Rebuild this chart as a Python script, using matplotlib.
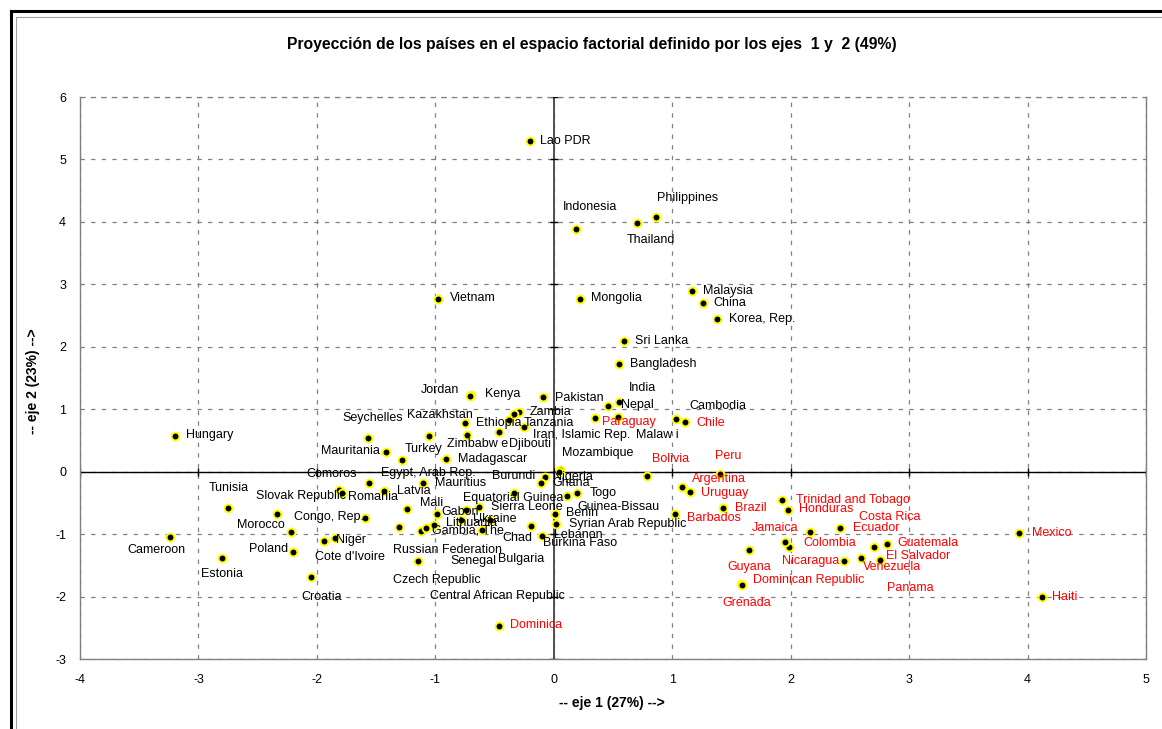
import matplotlib
matplotlib.use("Agg")
import matplotlib.pyplot as plt
from matplotlib.lines import Line2D

plt.rcParams['font.family'] = ['Liberation Sans', 'DejaVu Sans']
plt.rcParams['axes.unicode_minus'] = False

# ---------------- data ----------------
countries = [
    "Lao PDR", "Indonesia", "Philippines", "Thailand", "Malaysia", "China", "Korea, Rep.",
    "Vietnam", "Mongolia", "Sri Lanka", "Bangladesh", "India", "Nepal", "Pakistan",
    "Cambodia", "Chile", "Paraguay", "Malaw i", "Iran, Islamic Rep.", "Zambia", "Tanzania",
    "Ethiopia", "Djibouti", "Kenya", "Jordan", "Kazakhstan", "Zimbabw e", "Madagascar",
    "Seychelles", "Mauritania", "Turkey", "Egypt, Arab Rep.", "Comoros", "Mauritius",
    "Slovak Republic", "Romania", "Latvia", "Congo, Rep.", "Morocco", "Poland",
    "Cote d'Ivoire", "Niger", "Croatia", "Hungary", "Tunisia", "Cameroon", "Estonia",
    "Mali", "Gabon", "Sierra Leone", "Equatorial Guinea", "Lithuania", "Ukraine",
    "Gambia, The", "Russian Federation", "Czech Republic", "Senegal", "Bulgaria",
    "Central African Republic", "Chad", "Lebanon", "Burkina Faso", "",
    "Mozambique", "Burundi", "Nigeria", "Ghana", "Togo", "Guinea-Bissau", "Benin",
    "Syrian Arab Republic", "Bolivia", "Peru", "Argentina", "Uruguay", "Brazil",
    "Barbados", "Trinidad and Tobago", "Honduras", "Jamaica", "Ecuador", "Costa Rica",
    "Colombia", "Panama", "Guatemala", "El Salvador", "Venezuela", "Nicaragua",
    "Guyana", "Dominican Republic", "Grenada", "Mexico", "Haiti", "Dominica",
]

eje1 = [
    -0.20, 0.19, 0.86, 0.70, 1.17, 1.26, 1.38,
    -0.98, 0.22, 0.59, 0.55, 0.55, 0.46, -0.09,
    1.03, 1.11, 0.35, 0.54, -0.25, -0.29, -0.34,
    -0.38, -0.46, -0.70, -0.71, -0.75, -0.73, -0.91,
    -1.57, -1.42, -1.05, -1.28, -1.56, -1.10,
    -1.81, -1.79, -1.43, -1.59, -2.34, -2.22,
    -2.20, -1.85, -2.05, -3.20, -2.75, -3.24, -2.80,
    -1.24, -0.99, -0.63, -0.34, -0.78, -0.54,
    -1.01, -1.12, -1.15, -0.61, -1.08,
    -1.31, -0.19, -0.10, -0.74, -1.94,
    0.05, 0.04, -0.07, -0.11, 0.20, 0.11, 0.01,
    0.02, 0.79, 1.40, 1.08, 1.15, 1.43,
    1.02, 1.93, 1.98, 2.16, 2.42, 2.70,
    1.99, 1.95, 2.81, 2.75, 2.59, 2.45,
    1.65, 1.58, 1.59, 3.93, 4.12, -0.46,
]

eje2 = [
    5.29, 3.89, 4.08, 3.98, 2.90, 2.70, 2.45,
    2.77, 2.77, 2.09, 1.72, 1.12, 1.05, 1.19,
    0.85, 0.79, 0.86, 0.88, 0.71, 0.95, 0.92,
    0.83, 0.64, 1.22, 1.21, 0.78, 0.59, 0.20,
    0.54, 0.32, 0.57, 0.19, -0.18, -0.18,
    -0.30, -0.34, -0.31, -0.74, -0.68, -0.96,
    -1.29, -1.06, -1.68, 0.57, -0.58, -1.04, -1.39,
    -0.60, -0.67, -0.56, -0.34, -0.77, -0.77,
    -0.85, -0.95, -1.43, -0.93, -0.91,
    -0.89, -0.87, -1.03, -0.61, -1.11,
    0.02, 0.00, -0.08, -0.18, -0.34, -0.39, -0.67,
    -0.84, -0.07, -0.04, -0.25, -0.33, -0.58,
    -0.68, -0.45, -0.61, -0.97, -0.90, -1.20,
    -1.20, -1.12, -1.16, -1.41, -1.39, -1.43,
    -1.26, -1.80, -1.81, -0.98, -2.01, -2.47,
]

red_countries = [
    "Chile", "Paraguay", "Bolivia", "Peru", "Argentina", "Uruguay", "Brazil", "Barbados",
    "Trinidad and Tobago", "Honduras", "Jamaica", "Ecuador", "Costa Rica", "Colombia",
    "Panama", "Guatemala", "El Salvador", "Venezuela", "Nicaragua", "Guyana",
    "Dominican Republic", "Grenada", "Mexico", "Haiti", "Dominica",
]

x_ticks = [-4, -3, -2, -1, 0, 1, 2, 3, 4, 5]
y_ticks = [-3, -2, -1, 0, 1, 2, 3, 4, 5, 6]

title = "Proyección de los países en el espacio factorial definido por los ejes  1 y  2 (49%)"
xlabel = "-- eje 1 (27%) -->"
ylabel = "-- eje 2 (23%) -->"

# ---------------- label placement (pixel offsets from the point) ----------------
label_offsets = {
    "Lao PDR": (35.5, 0.7), "Indonesia": (13.3, 22), "Philippines": (32, 19),
    "Thailand": (14.3, -16.7), "Malaysia": (36, 0), "China": (26.8, 0.3),
    "Korea, Rep.": (44.7, 0), "Vietnam": (34.8, 0.7), "Mongolia": (36.2, 0.7),
    "Sri Lanka": (37.5, 0), "Bangladesh": (44.5, 0.3), "India": (23.7, 13.7),
    "Nepal": (29.2, 1.3), "Pakistan": (36.3, -0.3), "Cambodia": (42, 12.5),
    "Chile": (25.5, -0.3), "Paraguay": (33.3, -3.7), "Malaw i": (39.4, -18.3),
    "Iran, Islamic Rep.": (57, -7.3), "Zambia": (31, 0.3), "Tanzania": (35.7, -8.7),
    "Ethiopia": (-9.8, -3), "Djibouti": (30.7, -12.3), "Kenya": (31.5, 1.7),
    "Jordan": (-29.5, 6.2), "Kazakhstan": (-25, 8.3), "Zimbabw e": (9.8, -9),
    "Madagascar": (46.8, 0), "Seychelles": (4.7, 20), "Mauritania": (-34.7, 0.7),
    "Turkey": (-6, -13), "Egypt, Arab Rep.": (26.3, -13.3), "Comoros": (-37.3, 9.4),
    "Mauritius": (36.7, 0), "Slovak Republic": (-38.3, -6), "Romania": (31.6, -4.6),
    "Latvia": (29, 0.3), "Congo, Rep.": (-36.7, 1), "Morocco": (-15.3, -11),
    "Poland": (-22.3, -17.7), "Cote d'Ivoire": (56.7, -4.4), "Niger": (16.7, -2.3),
    "Croatia": (10.3, -20), "Hungary": (35, 0.6), "Tunisia": (0.3, 19.7),
    "Cameroon": (-13.7, -13.3), "Estonia": (-0.5, -15.3), "Mali": (25, 5.7),
    "Gabon": (24, 1.6), "Sierra Leone": (47.7, 0), "Equatorial Guinea": (0, -5.6),
    "Lithuania": (10, -3.3), "Ukraine": (4.7, 0.7), "Gambia, The": (34, -6),
    "Russian Federation": (26, -19.3), "Czech Republic": (19, -19.3),
    "Senegal": (-8.4, -31.7), "Bulgaria": (94.8, -30.3),
    "Central African Republic": (99.3, -68.7), "Chad": (-13.5, -12.3),
    "Lebanon": (36.6, 1.4), "Burkina Faso": (113.5, -33.3),
    "Mozambique": (37.5, 17.4), "Burundi": (-45, -4.5), "Nigeria": (27.3, 0),
    "Ghana": (30.3, 0), "Togo": (25.8, 0), "Guinea-Bissau": (51.6, -10.7),
    "Benin": (27.5, 0.6), "Syrian Arab Republic": (72, 0), "Bolivia": (23.5, 16.7),
    "Peru": (8.2, 18.3), "Argentina": (37, 8.2), "Uruguay": (34.5, -0.4),
    "Brazil": (27.2, 0.3), "Barbados": (39, -4.3), "Trinidad and Tobago": (70.6, 0),
    "Honduras": (38.3, 0.7), "Jamaica": (-34.5, 4.6), "Ecuador": (35.5, 0),
    "Costa Rica": (15.7, 30), "Colombia": (40.2, 4), "Panama": (125.3, -46),
    "Guatemala": (41.8, 0.7), "El Salvador": (39, 3.8), "Venezuela": (31.5, -8.4),
    "Nicaragua": (-33, 0), "Guyana": (-0.1, -16.5), "Dominican Republic": (67.7, 3.6),
    "Grenada": (4.9, -17.9), "Mexico": (32.4, 0), "Haiti": (23, 0.3),
    "Dominica": (37.2, 1),
}

# ---------------- figure ----------------
W, H = 1162, 729
fig = plt.figure(figsize=(W / 100, H / 100), dpi=100)
ax = fig.add_axes([80 / W, 1 - 659 / H, (1146 - 80) / W, (659 - 97) / H])

ax.set_xlim(x_ticks[0], x_ticks[-1])
ax.set_ylim(y_ticks[0], y_ticks[-1])
ax.set_xticks(x_ticks)
ax.set_yticks(y_ticks)
ax.tick_params(length=0, labelsize=9, pad=11)
ax.tick_params(axis='y', pad=10)

ax.grid(True, linestyle=(0, (3.5, 5)), color='#808080', linewidth=0.9)
ax.set_axisbelow(True)
for side in ['left', 'bottom', 'right']:
    ax.spines[side].set_color('#808080')
    ax.spines[side].set_linewidth(1.0)
ax.spines['top'].set_color('#808080')
ax.spines['top'].set_linestyle((0, (3.5, 5)))
ax.spines['top'].set_linewidth(0.9)

# axes crossing at origin
ax.axhline(0, color='black', linewidth=1.0, zorder=2)
ax.axvline(0, color='#505050', linewidth=1.4, zorder=2)
ax.plot(x_ticks, [0] * len(x_ticks), linestyle='none', marker='|', color='black',
        markersize=6, markeredgewidth=1.0, zorder=2)
ax.plot([0] * len(y_ticks), y_ticks, linestyle='none', marker='_', color='black',
        markersize=6, markeredgewidth=1.0, zorder=2)

# points
ax.scatter(eje1, eje2, s=32, c='black', edgecolors='#FFFF00', linewidths=1.4, zorder=4)

for name, xv, yv in zip(countries, eje1, eje2):
    if not name:
        continue
    dx, dy = label_offsets.get(name, (30, 0))
    col = '#FF0000' if name in red_countries else 'black'
    ax.annotate(name, (xv, yv), xytext=(dx, dy), textcoords='offset pixels',
                ha='center', va='center', fontsize=9, color=col, zorder=5)

fig.text(592 / W, 1 - 45 / H, title, ha='center', va='center', fontsize=11.3,
         fontweight='bold')
fig.text(612 / W, 1 - 703 / H, xlabel, ha='center', va='center', fontsize=10,
         fontweight='bold')
fig.text(33 / W, 1 - 381 / H, ylabel, ha='center', va='center', fontsize=10,
         fontweight='bold', rotation=90)

# outer chart frame
fig.add_artist(Line2D([10.5 / W, 10.5 / W], [0, 1 - 10.5 / H], color='black',
                      linewidth=2.2, transform=fig.transFigure))
fig.add_artist(Line2D([10.5 / W, 1], [1 - 10.5 / H, 1 - 10.5 / H], color='black',
                      linewidth=2.2, transform=fig.transFigure))
fig.add_artist(Line2D([15.5 / W, 15.5 / W], [0, 1 - 16.5 / H], color='#A0A0A0',
                      linewidth=0.8, transform=fig.transFigure))
fig.add_artist(Line2D([15.5 / W, 1], [1 - 16.5 / H, 1 - 16.5 / H], color='#A0A0A0',
                      linewidth=0.8, transform=fig.transFigure))

fig.savefig('out.png', dpi=100)
